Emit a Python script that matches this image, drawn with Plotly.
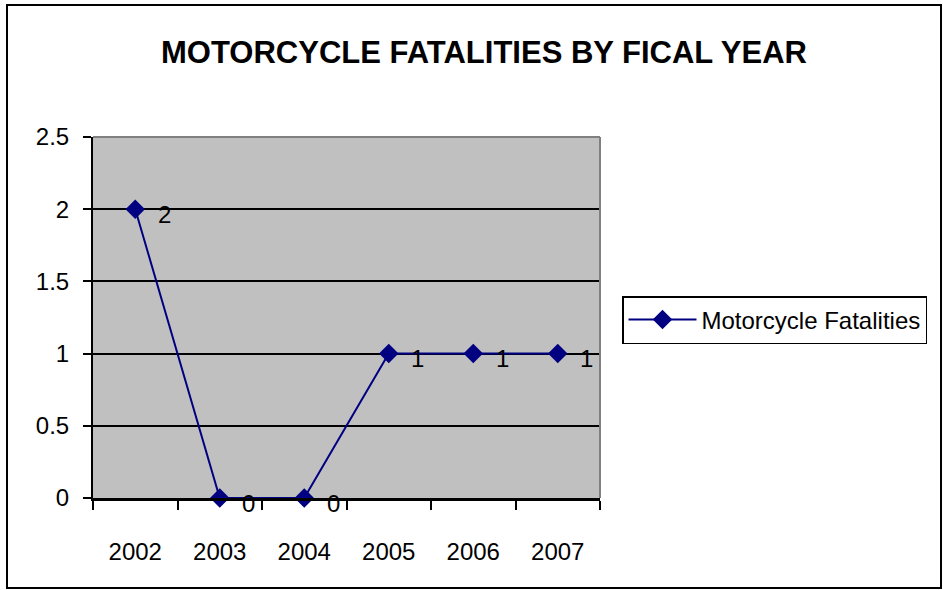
import plotly.graph_objects as go

years = ["2002", "2003", "2004", "2005", "2006", "2007"]
fatalities = [2, 0, 0, 1, 1, 1]
y_ticks = [0, 0.5, 1, 1.5, 2, 2.5]
y_tick_labels = ["0", "0.5", "1", "1.5", "2", "2.5"]

W, H = 943, 590
L, R, T, B = 93, 600, 137, 498
pw, ph = R - L, B - T

def px_x(x):
    return (x - L) / pw

def px_y(y):
    return (B - y) / ph

FONT = "Liberation Sans, Arial"

fig = go.Figure()
fig.add_trace(go.Scatter(
    x=years, y=fatalities, mode="lines+markers",
    name="Motorcycle Fatalities",
    line=dict(color="#000080", width=2),
    marker=dict(symbol="diamond", size=15, color="#000080"),
    cliponaxis=False,
))

annotations = [
    dict(x=i, y=v, xref="x", yref="y", text=str(v), showarrow=False,
         xanchor="center", yanchor="middle", xshift=29, yshift=-5,
         font=dict(family=FONT, size=24, color="black"))
    for i, v in enumerate(fatalities)
]

fig.update_layout(
    width=W, height=H,
    margin=dict(l=L, r=W - R, t=T, b=H - B, pad=0),
    paper_bgcolor="white",
    plot_bgcolor="#C0C0C0",
    font=dict(family=FONT, size=24, color="black"),
    title=dict(
        text="<b>MOTORCYCLE FATALITIES BY FICAL YEAR</b>",
        x=484 / W, xanchor="center", xref="container",
        y=1 - 52 / H, yanchor="middle",
        font=dict(family=FONT, size=31, color="black"),
    ),
    showlegend=True,
    legend=dict(
        x=px_x(622), y=px_y(296), xanchor="left", yanchor="top",
        bordercolor="black", borderwidth=1.5, bgcolor="white",
        font=dict(family=FONT, size=24, color="black"),
        itemwidth=68,
    ),
    xaxis=dict(
        type="category", range=[-0.5, 5.5],
        showgrid=False, zeroline=False,
        showline=True, linecolor="black", linewidth=3,
        ticks="outside", tickson="boundaries", ticklen=9, tickwidth=2, tickcolor="black",
        ticklabelstandoff=30,
        tickfont=dict(size=24),
    ),
    yaxis=dict(
        range=[0, 2.5], tickvals=y_ticks, ticktext=y_tick_labels,
        showgrid=True, gridcolor="black", gridwidth=1.5,
        zeroline=False,
        showline=True, linecolor="black", linewidth=2,
        ticks="outside", ticklen=8, tickwidth=2, tickcolor="black",
        ticklabelstandoff=9,
        tickfont=dict(size=24),
    ),
    annotations=annotations,
    shapes=[
        dict(type="line", xref="paper", yref="paper", x0=0, x1=1, y0=1, y1=1,
             line=dict(color="#808080", width=2)),
        dict(type="line", xref="paper", yref="paper", x0=1, x1=1, y0=0, y1=1,
             line=dict(color="#808080", width=2)),
        dict(type="rect", xref="paper", yref="paper",
             x0=px_x(7), x1=px_x(941), y0=px_y(588), y1=px_y(5),
             line=dict(color="black", width=2), fillcolor="rgba(0,0,0,0)"),
    ],
)

fig.write_html("out.html", config={"displayModeBar": False},
               post_script="document.body.style.margin='0';")
